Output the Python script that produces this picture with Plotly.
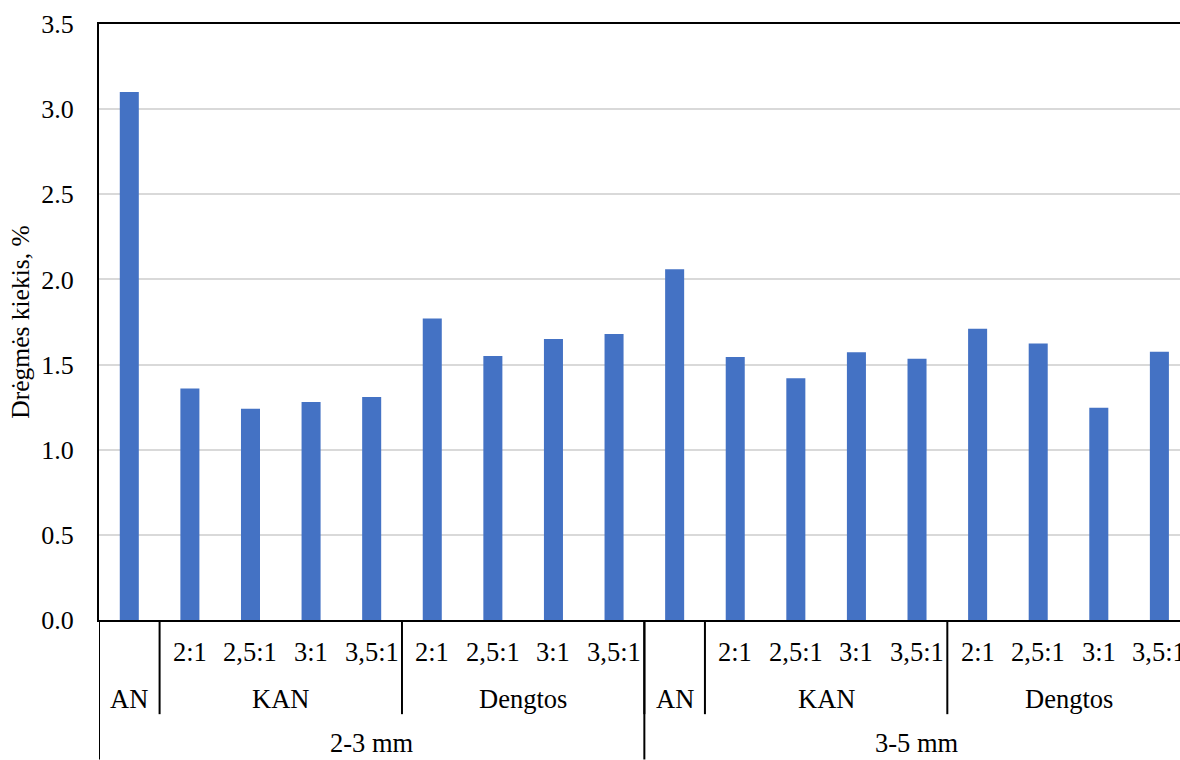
import plotly.graph_objects as go

# ---- data ----
ratio_labels = ["", "2:1", "2,5:1", "3:1", "3,5:1", "2:1", "2,5:1", "3:1", "3,5:1",
                "", "2:1", "2,5:1", "3:1", "3,5:1", "2:1", "2,5:1", "3:1", "3,5:1"]
type_labels = ["AN", "KAN", "Dengtos", "AN", "KAN", "Dengtos"]
type_sizes = [1, 4, 4, 1, 4, 4]
size_labels = ["2-3 mm", "3-5 mm"]
size_counts = [9, 9]
values = [3.10, 1.36, 1.24, 1.28, 1.31, 1.77, 1.55, 1.65, 1.68,
          2.06, 1.545, 1.42, 1.573, 1.534, 1.71, 1.624, 1.246, 1.575]
y_title = "Drėgmės kiekis, %"

FONT = "Liberation Serif"
FS_CAT = 26.5
FS_TICK = 26
FS_TITLE = 25.5
x_idx = list(range(len(values)))

fig = go.Figure()
fig.add_trace(go.Bar(x=x_idx, y=values, marker=dict(color="#4472C4", line=dict(width=0)),
                     width=0.314, showlegend=False))

ann = []
shapes = []
row1_y, row2_y, row3_y = -0.054, -0.132, -0.2339
sep_short, sep_long = -0.158, -0.234

for i, t in enumerate(ratio_labels):
    if t:
        ann.append(dict(x=i, y=row1_y, xref="x", yref="paper", text=t, showarrow=False,
                        font=dict(family=FONT, size=FS_CAT, color="black"), yanchor="middle"))
start = 0
for lab, n in zip(type_labels, type_sizes):
    ann.append(dict(x=start + (n - 1) / 2, y=row2_y, xref="x", yref="paper", text=lab,
                    showarrow=False, font=dict(family=FONT, size=FS_CAT, color="black"),
                    yanchor="middle"))
    start += n
    shapes.append(dict(type="line", xref="x", yref="paper", x0=start - 0.5, x1=start - 0.5,
                       y0=0, y1=sep_short, line=dict(color="black", width=2)))
start = 0
for lab, n in zip(size_labels, size_counts):
    ann.append(dict(x=start + (n - 1) / 2, y=row3_y, xref="x", yref="paper", text=lab,
                    showarrow=False, font=dict(family=FONT, size=FS_CAT, color="black"),
                    yanchor="bottom", borderpad=0))
    start += n
    shapes.append(dict(type="line", xref="x", yref="paper", x0=start - 0.5, x1=start - 0.5,
                       y0=0, y1=sep_long, line=dict(color="black", width=2)))
shapes.append(dict(type="line", xref="x", yref="paper", x0=-0.5, x1=-0.5,
                   y0=0, y1=sep_long, line=dict(color="black", width=2)))

fig.update_layout(
    width=1180, height=760,
    margin=dict(l=99, r=0, t=24, b=139.5, pad=0),
    paper_bgcolor="white", plot_bgcolor="white",
    font=dict(family=FONT, size=FS_TICK, color="black"),
    bargap=0.686,
    xaxis=dict(range=[-0.5, 17.34], showticklabels=False, ticks="", showgrid=False,
               showline=True, mirror=True, linecolor="black", linewidth=2, zeroline=False),
    yaxis=dict(range=[0, 3.5], dtick=0.5, tickformat=".1f", showgrid=True,
               gridcolor="#d9d9d9", gridwidth=1.5, showline=True, linecolor="black",
               linewidth=2, zeroline=False, ticks="", ticklabelstandoff=18,
               tickfont=dict(family=FONT, size=FS_TICK, color="black"),
               title=dict(text=y_title, font=dict(family=FONT, size=FS_TITLE, color="black"),
                          standoff=4)),
    annotations=ann, shapes=shapes,
)

fig.write_html("out.html")
